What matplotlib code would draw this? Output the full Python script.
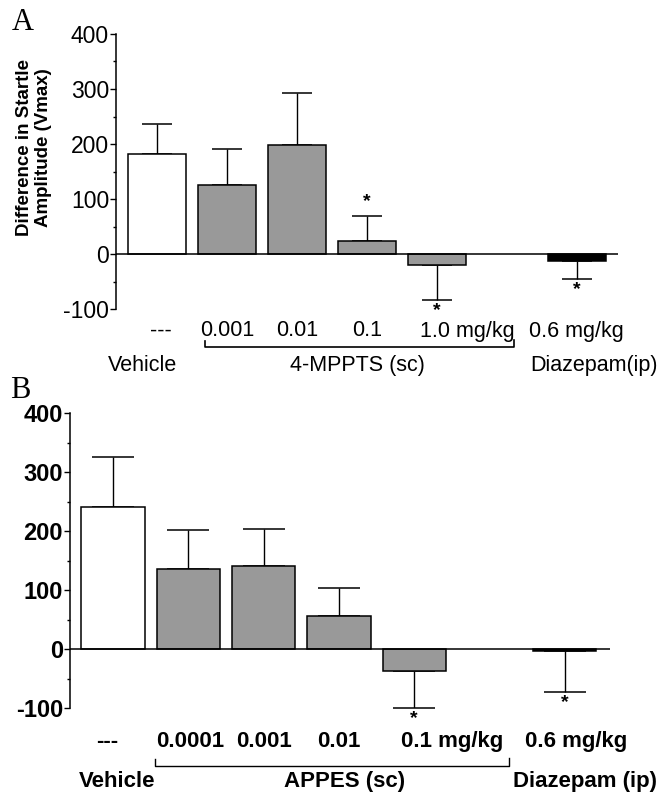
import numpy as np
import matplotlib.pyplot as plt
from matplotlib.ticker import MultipleLocator

# panel A: 4-MPPTS
pos_a = [0, 1, 2, 3, 4, 6]
mean_a = [182, 125, 198, 24, -20, -12]
sem_a = [54, 66, 95, 45, 64, 33]
dose_a = ['---', '0.001', '0.01', '0.1', '1.0 mg/kg', '0.6 mg/kg']
sig_a = [False, False, False, True, True, True]

# panel B: APPES
pos_b = [0, 1, 2, 3, 4, 6]
mean_b = [241, 136, 141, 56, -37, -4]
sem_b = [85, 66, 62, 47, 63, 69]
dose_b = ['---', '0.0001', '0.001', '0.01', '0.1 mg/kg', '0.6 mg/kg']
sig_b = [False, False, False, False, True, True]

colors = ['white', '#999999', '#999999', '#999999', '#999999', 'black']

plt.rcParams['font.family'] = ['Liberation Sans', 'DejaVu Sans']
plt.rcParams['axes.unicode_minus'] = False

fig = plt.figure(figsize=(6.6, 7.95), dpi=100)


def draw_panel(ax, pos, mean, sem, sig, width, cap, fw, fs, xlim):
    mean = np.array(mean)
    sem = np.array(sem)
    lower = np.where(mean < 0, sem, 0)
    upper = np.where(mean >= 0, sem, 0)
    ax.bar(pos, mean, width=width, color=colors, edgecolor='black', linewidth=1.1, zorder=2)
    ax.errorbar(pos, mean, yerr=[lower, upper], fmt='none', ecolor='black',
                elinewidth=1.0, capsize=cap, capthick=1.1, zorder=1)
    ax.axhline(0, color='black', linewidth=1.1, zorder=3)
    for p, m, s, g in zip(pos, mean, sem, sig):
        if not g:
            continue
        if m >= 0:
            ax.text(p, m + s + 10, '*', ha='center', va='bottom', fontsize=14, fontweight='bold')
        else:
            ax.text(p, m - s - 4, '*', ha='center', va='top', fontsize=14, fontweight='bold')
    ax.set_xlim(*xlim)
    ax.set_ylim(-100, 400)
    ax.yaxis.set_major_locator(MultipleLocator(100))
    ax.yaxis.set_minor_locator(MultipleLocator(50))
    ax.tick_params(axis='y', which='major', length=4, width=1.0, pad=1, labelsize=fs)
    ax.tick_params(axis='y', which='minor', length=2, width=1.0)
    for lab in ax.get_yticklabels():
        lab.set_fontweight(fw)
    ax.set_xticks([])
    for s in ['top', 'right', 'bottom']:
        ax.spines[s].set_visible(False)
    ax.spines['left'].set_linewidth(1.1)


# ---- A ----
ax_a = fig.add_axes([116 / 660, 1 - 309 / 795, 502 / 660, 275 / 795])
draw_panel(ax_a, pos_a, mean_a, sem_a, sig_a, 0.83, 11, 'normal', 16.5, (-0.586, 6.59))

row1_x = [0.05, 1.0, 2.0, 3.0, 4.43, 6.0]
for x, t in zip(row1_x, dose_a):
    ax_a.text(x, -140, t, ha='center', va='center', fontsize=15.5, clip_on=False)
ax_a.plot([0.69, 0.69, 5.11, 5.11], [-158, -169, -169, -156], color='black', lw=1.2, clip_on=False)
ax_a.text(-0.2, -203, 'Vehicle', ha='center', va='center', fontsize=15.5, clip_on=False)
ax_a.text(2.86, -203, '4-MPPTS (sc)', ha='center', va='center', fontsize=15.5, clip_on=False)
ax_a.text(6.24, -203, 'Diazepam(ip)', ha='center', va='center', fontsize=15.5, clip_on=False)

fig.text(34 / 660, 1 - 148 / 795, 'Difference in Startle\nAmplitude (Vmax)', rotation=90,
         ha='center', va='center', fontsize=13.5, fontweight='bold', linespacing=1.15)
fig.text(23 / 660, 1 - 22 / 795, 'A', ha='center', va='center', fontsize=22, family='Liberation Serif')

# ---- B ----
ax_b = fig.add_axes([70 / 660, 1 - 708 / 795, 540 / 660, 295 / 795])
draw_panel(ax_b, pos_b, mean_b, sem_b, sig_b, 0.84, 15, 'bold', 17, (-0.571, 6.6))

row1_xb = [-0.08, 1.02, 2.0, 3.0, 4.5, 6.15]
for x, t in zip(row1_xb, dose_b):
    ax_b.text(x, -157, t, ha='center', va='center', fontsize=16, fontweight='bold', clip_on=False)
ax_b.plot([0.56, 0.56, 5.26, 5.26], [-186, -198, -198, -185], color='black', lw=1.0, clip_on=False)
ax_b.text(0.05, -225, 'Vehicle', ha='center', va='center', fontsize=16, fontweight='bold', clip_on=False)
ax_b.text(3.07, -225, 'APPES (sc)', ha='center', va='center', fontsize=16, fontweight='bold', clip_on=False)
ax_b.text(6.27, -225, 'Diazepam (ip)', ha='center', va='center', fontsize=16, fontweight='bold', clip_on=False)

fig.text(20 / 660, 1 - 390 / 795, 'B', ha='center', va='center', fontsize=22, family='Liberation Serif')

fig.savefig('out.png', dpi=100)
